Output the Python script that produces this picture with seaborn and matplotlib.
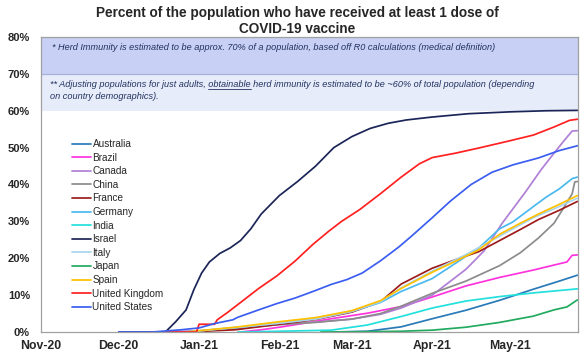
import pandas as pd
import numpy as np
import matplotlib.pyplot as plt
import matplotlib.dates as mdates
from matplotlib.lines import Line2D
import seaborn as sns

# countries in legend order and their line colours
countries = ['Australia', 'Brazil', 'Canada', 'China', 'France', 'Germany', 'India',
             'Israel', 'Italy', 'Japan', 'Spain', 'United Kingdom', 'United States']
colors = ['#2a7ab8', '#ff33dd', '#b07fd6', '#8c8c8c', '#9e1b1b', '#4bb8ee', '#22e0dc',
          '#1c2557', '#a9d5ee', '#22aa5e', '#ffc000', '#ff2020', '#3b5ef0']

# % of population with at least one dose
australia_dates = ['2021-02-22', '2021-03-07', '2021-03-20', '2021-04-01', '2021-04-14',
                   '2021-04-27', '2021-05-10', '2021-05-20', '2021-05-27']
australia_pct = [0, 0.2, 1.4, 3.6, 5.9, 8.6, 11.6, 13.8, 15.4]

brazil_dates = ['2021-01-17', '2021-01-25', '2021-02-01', '2021-02-10', '2021-02-21', '2021-03-07',
                '2021-03-20', '2021-04-01', '2021-04-14', '2021-04-27', '2021-05-10', '2021-05-23',
                '2021-05-25', '2021-05-27']
brazil_pct = [0, 0.6, 1.3, 2.3, 3.6, 5.1, 6.9, 9.5, 12.5, 14.8, 16.8, 19.0, 20.8, 20.9]

canada_dates = ['2020-12-15', '2021-01-01', '2021-01-15', '2021-02-01', '2021-02-15', '2021-03-01',
                '2021-03-12', '2021-03-20', '2021-04-01', '2021-04-14', '2021-04-21', '2021-04-28',
                '2021-05-07', '2021-05-13', '2021-05-18', '2021-05-22', '2021-05-25', '2021-05-27']
canada_pct = [0, 0.3, 1.0, 2.3, 2.7, 3.5, 4.8, 6.5, 10.0, 17.0, 22.0, 29.5, 38.0, 44.0, 48.5, 52.0,
              54.5, 54.6]

china_dates = ['2020-12-27', '2021-01-15', '2021-02-01', '2021-02-15', '2021-03-01', '2021-03-12',
               '2021-03-20', '2021-04-01', '2021-04-14', '2021-04-27', '2021-05-05', '2021-05-12',
               '2021-05-18', '2021-05-22', '2021-05-25', '2021-05-26', '2021-05-27']
china_pct = [0, 1.0, 2.0, 2.6, 3.5, 5.0, 7.0, 10.5, 13.8, 18.0, 21.5, 25.5, 29.5, 34.0, 37.5, 40.7, 40.8]

france_dates = ['2020-12-27', '2021-01-15', '2021-02-01', '2021-02-15', '2021-03-01', '2021-03-12',
                '2021-03-20', '2021-04-01', '2021-04-10', '2021-04-19', '2021-04-27', '2021-05-05',
                '2021-05-12', '2021-05-20', '2021-05-27']
france_pct = [0, 0.6, 2.1, 3.4, 5.4, 8.2, 13.0, 17.3, 19.6, 21.8, 24.8, 27.8, 30.5, 33.0, 35.4]

germany_dates = ['2020-12-27', '2021-01-15', '2021-02-01', '2021-02-15', '2021-03-01', '2021-03-12',
                 '2021-03-20', '2021-04-01', '2021-04-14', '2021-04-19', '2021-04-27', '2021-05-02',
                 '2021-05-10', '2021-05-15', '2021-05-20', '2021-05-25', '2021-05-27']
germany_pct = [0, 1.2, 2.4, 3.6, 5.6, 8.0, 11.0, 14.5, 20.5, 22.8, 28.0, 29.8, 34.0, 36.6, 38.8,
               41.6, 42.0]

india_dates = ['2021-01-16', '2021-02-01', '2021-02-21', '2021-03-07', '2021-03-20', '2021-04-01',
               '2021-04-14', '2021-04-27', '2021-05-10', '2021-05-27']
india_pct = [0, 0.2, 0.5, 1.9, 4.2, 6.5, 8.4, 9.6, 10.6, 11.7]

israel_dates = ['2020-12-01', '2020-12-19', '2020-12-23', '2020-12-27', '2020-12-30', '2021-01-02',
                '2021-01-05', '2021-01-09', '2021-01-13', '2021-01-17', '2021-01-21', '2021-01-25',
                '2021-02-01', '2021-02-08', '2021-02-15', '2021-02-22', '2021-03-01', '2021-03-08',
                '2021-03-15', '2021-03-22', '2021-04-01', '2021-04-15', '2021-05-01', '2021-05-15',
                '2021-05-27']
israel_pct = [0, 0, 2.8, 6.0, 11.5, 16.0, 19.0, 21.3, 22.8, 24.8, 28.0, 32.0, 37.0, 40.8, 45.0, 50.0,
              53.0, 55.2, 56.6, 57.5, 58.3, 59.2, 59.7, 60.0, 60.1]

italy_dates = ['2020-12-27', '2021-01-15', '2021-02-01', '2021-02-15', '2021-03-01', '2021-03-12',
               '2021-03-20', '2021-04-01', '2021-04-14', '2021-04-27', '2021-05-10', '2021-05-20',
               '2021-05-27']
italy_pct = [0, 1.2, 2.4, 3.5, 5.6, 8.2, 12.0, 16.5, 21.0, 26.0, 31.0, 34.0, 36.3]

japan_dates = ['2021-02-17', '2021-03-01', '2021-03-20', '2021-04-01', '2021-04-14', '2021-04-27',
               '2021-05-10', '2021-05-18', '2021-05-23', '2021-05-27']
japan_pct = [0, 0.05, 0.2, 0.5, 1.3, 2.6, 4.3, 6.0, 6.8, 8.7]

spain_dates = ['2020-12-27', '2021-01-15', '2021-02-01', '2021-02-15', '2021-03-01', '2021-03-12',
               '2021-03-20', '2021-04-01', '2021-04-10', '2021-04-19', '2021-04-27', '2021-05-05',
               '2021-05-12', '2021-05-20', '2021-05-27']
spain_pct = [0, 1.3, 2.8, 3.9, 5.8, 8.5, 11.8, 16.2, 19.2, 22.3, 26.5, 29.5, 32.0, 34.6, 37.0]

uk_dates = ['2020-12-13', '2020-12-31', '2021-01-01', '2021-01-07', '2021-01-08', '2021-01-12',
            '2021-01-17', '2021-01-24', '2021-01-31', '2021-02-07', '2021-02-14', '2021-02-20',
            '2021-02-25', '2021-03-04', '2021-03-12', '2021-03-20', '2021-03-27', '2021-04-01',
            '2021-04-10', '2021-04-19', '2021-04-30', '2021-05-10', '2021-05-18', '2021-05-24',
            '2021-05-27']
uk_pct = [0, 0, 2.1, 2.1, 3.3, 5.3, 8.0, 11.8, 15.2, 19.2, 23.8, 27.3, 30.0, 33.2, 37.5, 42.0, 45.6,
          47.3, 48.5, 49.9, 51.7, 53.4, 55.6, 57.4, 57.7]

us_dates = ['2020-12-01', '2020-12-14', '2020-12-25', '2021-01-01', '2021-01-07', '2021-01-14',
            '2021-01-16', '2021-01-24', '2021-01-31', '2021-02-07', '2021-02-14', '2021-02-21',
            '2021-02-27', '2021-03-05', '2021-03-12', '2021-03-19', '2021-03-24', '2021-04-01',
            '2021-04-08', '2021-04-16', '2021-04-24', '2021-05-02', '2021-05-12', '2021-05-20',
            '2021-05-27']
us_pct = [0, 0, 0.6, 1.1, 2.3, 3.3, 4.0, 6.0, 7.7, 9.2, 11.0, 12.9, 14.2, 16.0, 19.3, 23.0, 26.0,
          31.0, 35.5, 40.0, 43.3, 45.3, 47.2, 49.2, 50.5]

series = {
    'Australia': (australia_dates, australia_pct),
    'Brazil': (brazil_dates, brazil_pct),
    'Canada': (canada_dates, canada_pct),
    'China': (china_dates, china_pct),
    'France': (france_dates, france_pct),
    'Germany': (germany_dates, germany_pct),
    'India': (india_dates, india_pct),
    'Israel': (israel_dates, israel_pct),
    'Italy': (italy_dates, italy_pct),
    'Japan': (japan_dates, japan_pct),
    'Spain': (spain_dates, spain_pct),
    'United Kingdom': (uk_dates, uk_pct),
    'United States': (us_dates, us_pct),
}

frames = []
for name, (d, v) in series.items():
    frames.append(pd.DataFrame({'date': pd.to_datetime(d), 'pct': v, 'country': name}))
df = pd.concat(frames, ignore_index=True)

sns.set_style('white')
plt.rcParams['font.family'] = ['Liberation Sans', 'DejaVu Sans']

W, H = 585, 362
fig = plt.figure(figsize=(W / 100, H / 100), dpi=100)
ax = fig.add_axes([41 / W, (H - 332) / H, (578 - 41) / W, (332 - 37) / H])

palette = dict(zip(countries, colors))
sns.lineplot(data=df, x='date', y='pct', hue='country', hue_order=countries, palette=palette,
             estimator=None, linewidth=1.25, legend=False, ax=ax)

# herd immunity bands
x0, x1 = pd.Timestamp('2020-11-01'), pd.Timestamp('2021-05-27 06:00')
ax.axhspan(60, 70, color='#e6ecfa', zorder=0, lw=0)
ax.axhspan(70, 80, color='#c8d1f5', zorder=0, lw=0)
ax.axhline(70, color='#a7b2d8', lw=0.9, zorder=0.5)

ax.set_xlim(x0, x1)
ax.set_ylim(0, 80)
ax.set_yticks(range(0, 81, 10))
ax.set_yticklabels([f'{v}%' for v in range(0, 81, 10)])
ax.xaxis.set_major_locator(mdates.MonthLocator())
ax.xaxis.set_major_formatter(mdates.DateFormatter('%b-%y'))
ax.set_xlabel('')
ax.set_ylabel('')
ax.tick_params(axis='y', length=0, pad=8, labelsize=8)
ax.tick_params(axis='x', length=3, width=0.8, color='#9a9a9a', pad=3, labelsize=8.8)
for lab in ax.get_xticklabels() + ax.get_yticklabels():
    lab.set_fontweight('bold')
for sp in ax.spines.values():
    sp.set_visible(True)
    sp.set_color('#a0a0a0')
    sp.set_linewidth(0.9)

handles = [Line2D([], [], color=c, lw=1.25) for c in colors]
ax.legend(handles, countries, loc='upper left', bbox_to_anchor=(72 / W, 1 - 139 / H),
          bbox_transform=fig.transFigure, frameon=False, fontsize=7.2, handlelength=1.9,
          handletextpad=0.15, labelspacing=0.36, borderpad=0, borderaxespad=0)

fig.text(297 / W, 1 - 6 / H,
         'Percent of the population who have received at least 1 dose of\nCOVID-19 vaccine',
         ha='center', va='top', fontsize=9.8, fontweight='bold', linespacing=1.2)

# notes inside the bands
note_kw = dict(fontsize=6.6, fontstyle='italic', color='#22315f', va='baseline', ha='left',
               transform=ax.get_yaxis_transform())
tx = 9 / (578 - 41)
ax.text(tx + 0.004, 76.4, '* Herd Immunity is estimated to be approx. 70% of a population, based off '
        'R0 calculations (medical definition)', **note_kw)
line2 = ('** Adjusting populations for just adults, obtainable herd immunity is estimated to be '
         '~60% of total population (depending')
ax.text(tx, 66.4, line2, **note_kw)
ax.text(tx, 63.3, 'on country demographics).', **note_kw)

# underline the word "obtainable"
renderer = fig.canvas.get_renderer()
pre = ax.text(tx, 66.4, '** Adjusting populations for just adults, obtainable', **note_kw)
word = ax.text(tx, 66.4, 'obtainable', **note_kw)
end = pre.get_window_extent(renderer).x1
wid = word.get_window_extent(renderer).width
pre.remove()
word.remove()
ybase = ax.transData.transform((0, 66.4))[1] - 1.5
inv = fig.transFigure.inverted()
(ux0, uy), (ux1, _) = inv.transform([(end - wid, ybase), (end, ybase)])
fig.add_artist(Line2D([ux0, ux1], [uy, uy], color='#22315f', lw=0.6))

fig.savefig('out.png', dpi=100)
